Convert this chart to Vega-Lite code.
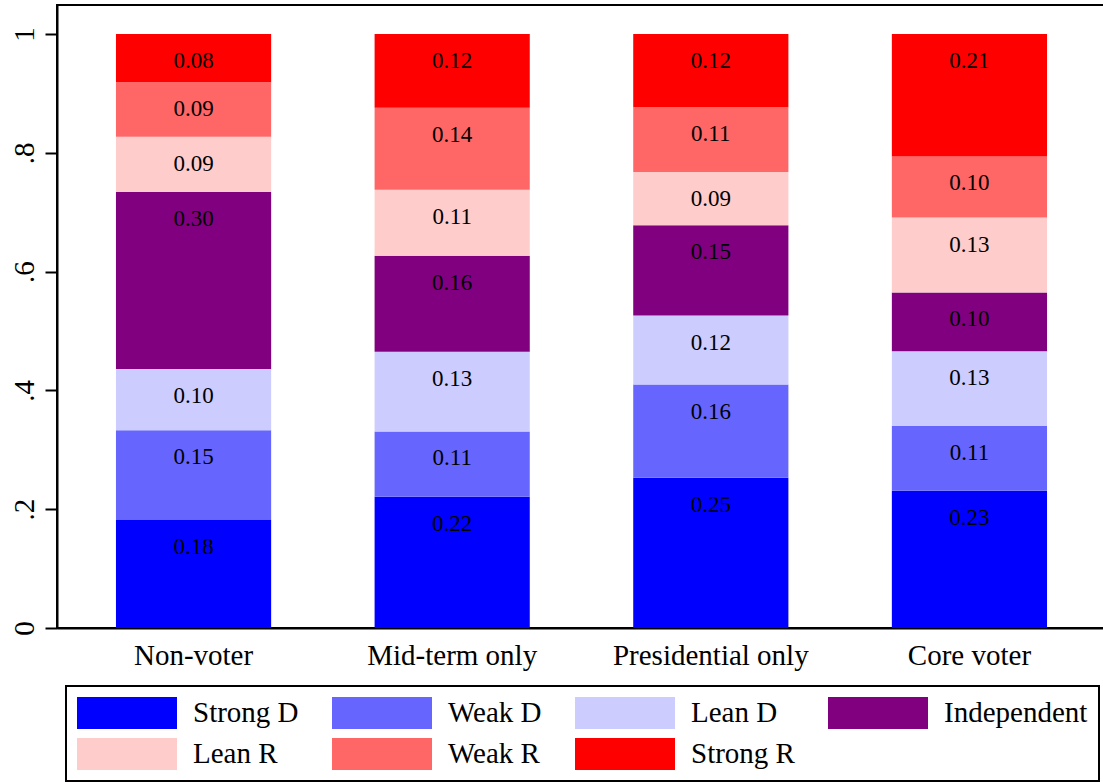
{
  "$schema": "https://vega.github.io/schema/vega-lite/v6.json",
  "width": 1049,
  "height": 623,
  "autosize": "none",
  "padding": {"left": 57, "top": 5, "right": 0, "bottom": 154},
  "background": "white",
  "config": {
    "font": "Liberation Serif",
    "view": {"stroke": "black", "strokeWidth": 2}
  },
  "data": {
    "values": [
      {"group": "Non-voter", "party": "Strong D", "rank": 1, "value": 0.182},
      {"group": "Non-voter", "party": "Weak D", "rank": 2, "value": 0.151},
      {"group": "Non-voter", "party": "Lean D", "rank": 3, "value": 0.103},
      {"group": "Non-voter", "party": "Independent", "rank": 4, "value": 0.298},
      {"group": "Non-voter", "party": "Lean R", "rank": 5, "value": 0.093},
      {"group": "Non-voter", "party": "Weak R", "rank": 6, "value": 0.092},
      {"group": "Non-voter", "party": "Strong R", "rank": 7, "value": 0.081},
      {"group": "Mid-term only", "party": "Strong D", "rank": 1, "value": 0.221},
      {"group": "Mid-term only", "party": "Weak D", "rank": 2, "value": 0.110},
      {"group": "Mid-term only", "party": "Lean D", "rank": 3, "value": 0.134},
      {"group": "Mid-term only", "party": "Independent", "rank": 4, "value": 0.162},
      {"group": "Mid-term only", "party": "Lean R", "rank": 5, "value": 0.111},
      {"group": "Mid-term only", "party": "Weak R", "rank": 6, "value": 0.138},
      {"group": "Mid-term only", "party": "Strong R", "rank": 7, "value": 0.124},
      {"group": "Presidential only", "party": "Strong D", "rank": 1, "value": 0.253},
      {"group": "Presidential only", "party": "Weak D", "rank": 2, "value": 0.157},
      {"group": "Presidential only", "party": "Lean D", "rank": 3, "value": 0.116},
      {"group": "Presidential only", "party": "Independent", "rank": 4, "value": 0.152},
      {"group": "Presidential only", "party": "Lean R", "rank": 5, "value": 0.090},
      {"group": "Presidential only", "party": "Weak R", "rank": 6, "value": 0.109},
      {"group": "Presidential only", "party": "Strong R", "rank": 7, "value": 0.123},
      {"group": "Core voter", "party": "Strong D", "rank": 1, "value": 0.231},
      {"group": "Core voter", "party": "Weak D", "rank": 2, "value": 0.109},
      {"group": "Core voter", "party": "Lean D", "rank": 3, "value": 0.126},
      {"group": "Core voter", "party": "Independent", "rank": 4, "value": 0.099},
      {"group": "Core voter", "party": "Lean R", "rank": 5, "value": 0.126},
      {"group": "Core voter", "party": "Weak R", "rank": 6, "value": 0.103},
      {"group": "Core voter", "party": "Strong R", "rank": 7, "value": 0.206}
    ]
  },
  "transform": [
    {"stack": "value", "groupby": ["group"], "sort": [{"field": "rank", "order": "ascending"}], "as": ["y0", "y1"]}
  ],
  "encoding": {
    "x": {
      "field": "group",
      "type": "nominal",
      "sort": ["Non-voter", "Mid-term only", "Presidential only", "Core voter"],
      "scale": {"paddingInner": 0.4, "paddingOuter": 0.228},
      "axis": {
        "title": null,
        "labelAngle": 0,
        "labelFontSize": 29,
        "labelColor": "black",
        "labelPadding": 13,
        "labelLimit": 500,
        "ticks": false,
        "domainColor": "black",
        "domainWidth": 2
      }
    }
  },
  "layer": [
    {
      "mark": {"type": "bar", "strokeWidth": 0},
      "encoding": {
        "y": {
          "field": "y1",
          "type": "quantitative",
          "scale": {"domain": [0, 1.049], "nice": false, "zero": true},
          "axis": {
            "title": null,
            "values": [0, 0.2, 0.4, 0.6, 0.8, 1],
            "labelExpr": "datum.value == 0 ? '0' : datum.value == 1 ? '1' : replace(format(datum.value, '.1f'), '0.', '.')",
            "labelAngle": -90,
            "labelAlign": "center",
            "labelBaseline": "alphabetic",
            "labelFontSize": 29,
            "labelColor": "black",
            "labelPadding": 12,
            "tickSize": 12,
            "tickWidth": 2,
            "tickColor": "black",
            "domainColor": "black",
            "domainWidth": 2,
            "grid": false
          }
        },
        "y2": {"field": "y0"},
        "color": {
          "field": "party",
          "type": "nominal",
          "scale": {
            "domain": ["Strong D", "Weak D", "Lean D", "Independent", "Lean R", "Weak R", "Strong R"],
            "range": ["#0000FF", "#6666FF", "#CCCCFF", "#800080", "#FFCCCC", "#FF6666", "#FF0000"]
          },
          "legend": {
            "title": null,
            "orient": "none",
            "legendX": 9,
            "legendY": 681,
            "direction": "horizontal",
            "columns": 4,
            "symbolType": "M-1,-0.32H1V0.32H-1Z",
            "symbolSize": 10000,
            "symbolStrokeWidth": 0,
            "symbolOpacity": 1,
            "labelFontSize": 29,
            "labelFont": "Liberation Serif",
            "labelColor": "black",
            "labelOffset": 16,
            "labelLimit": 400,
            "columnPadding": 33,
            "rowPadding": 9,
            "padding": 11,
            "strokeColor": "black",
            "fillColor": "white",
            "encode": {
              "legend": {"update": {"strokeWidth": {"value": 2}}},
              "symbols": {"update": {"y": {"value": 16}}},
              "labels": {"update": {"y": {"value": 16}}}
            }
          }
        }
      }
    },
    {
      "mark": {"type": "text", "fontSize": 23, "color": "black", "baseline": "middle", "dy": 27},
      "encoding": {
        "y": {"field": "y1", "type": "quantitative"},
        "text": {"field": "value", "type": "quantitative", "format": ".2f"}
      }
    }
  ]
}
